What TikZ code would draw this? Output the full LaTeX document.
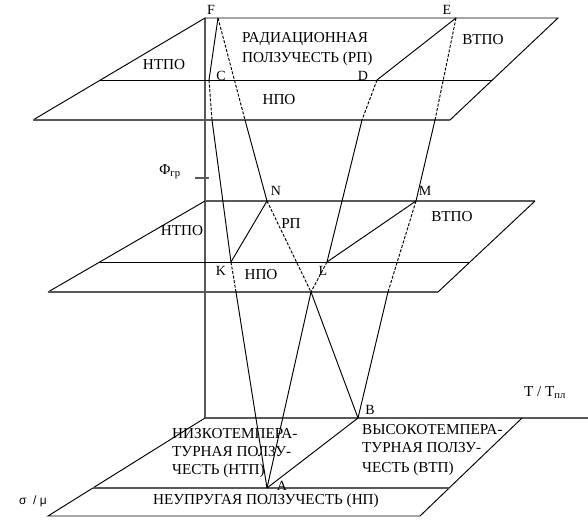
\documentclass[tikz,border=0pt]{standalone}
\usepackage{fontspec}
\setmainfont{Liberation Serif}
\newfontfamily\sansf{Liberation Sans}
\begin{document}
\begin{tikzpicture}[x=1pt,y=-1pt,
  ln/.style={line width=0.95pt,black},
  gl/.style={line width=1.2pt,color=black!65},
  dl/.style={line width=0.95pt,black,dash pattern=on 3pt off 1.6pt},
  lbl/.style={inner sep=0pt,text height=0.66em,text depth=0pt,font=\fontsize{15.2}{18}\selectfont},
  pt/.style={inner sep=0pt,text height=0.66em,text depth=0pt,font=\fontsize{14}{16}\selectfont}]
\useasboundingbox (0,0) rectangle (588,521);
% coordinates of planes
\coordinate (t1) at (205,18); \coordinate (t2) at (558,18);
\coordinate (t3) at (450,120); \coordinate (t4) at (33,120);
\coordinate (tm1) at (100,80); \coordinate (tm2) at (492,80);
\coordinate (m1) at (205,201); \coordinate (m2) at (535,201);
\coordinate (m3) at (438,292); \coordinate (m4) at (48,292);
\coordinate (mm1) at (100,262); \coordinate (mm2) at (469,262);
\coordinate (b1) at (205,418); \coordinate (b2) at (522,418);
\coordinate (b3) at (420,516); \coordinate (b4) at (48,516);
\coordinate (bm1) at (93,488); \coordinate (bm2) at (449,488);
\coordinate (tax) at (588,418);
\coordinate (ph1) at (195,178); \coordinate (ph2) at (209,178);
% points
\coordinate (F) at (218,18); \coordinate (C) at (209,80);
\coordinate (E) at (456,18); \coordinate (D) at (377,80);
\coordinate (N) at (267,201); \coordinate (K) at (231,262);
\coordinate (L) at (327,262); \coordinate (M) at (416,201);
\coordinate (A) at (267,488); \coordinate (B) at (358,418);
\coordinate (fc) at (212,120); \coordinate (ff) at (245,120);
\coordinate (fd) at (362,120); \coordinate (fe) at (435,120);
\coordinate (pk) at (236,292); \coordinate (px) at (311,292);
\coordinate (pm) at (388,292);
% axes
\draw[gl] (t1) -- (b1);
\draw[gl] (b1) -- (tax);
\draw[gl] (ph1) -- (ph2);
% top plane
\draw[ln] (t4) -- (t1) -- (t2) -- (t3);
\draw[gl] (t3) -- (t4);
\draw[ln] (tm1) -- (tm2);
% middle plane
\draw[ln] (m4) -- (m1);
\draw[gl] (m1) -- (m2);
\draw[ln] (m2) -- (m3);
\draw[gl] (m3) -- (m4);
\draw[ln] (mm1) -- (mm2);
% bottom plane
\draw[ln] (b1) -- (b4) -- (b3) -- (b2);
\draw[gl] (bm1) -- (bm2);
% solid connectors
\draw[ln] (F) -- (C);
\draw[ln] (E) -- (D);
\draw[ln] (N) -- (K);
\draw[ln] (M) -- (L);
\draw[ln] (A) -- (B);
\draw[ln] (fc) -- (K);
\draw[ln] (ff) -- (N);
\draw[ln] (fd) -- (L);
\draw[ln] (fe) -- (M);
\draw[ln] (pk) -- (A);
\draw[ln] (px) -- (A);
\draw[ln] (px) -- (B);
\draw[ln] (pm) -- (B);
% dashed connectors
\draw[dl] (C) -- (fc);
\draw[dl] (F) -- (ff);
\draw[dl] (D) -- (fd);
\draw[dl] (E) -- (fe);
\draw[dl] (K) -- (pk);
\draw[dl] (N) -- (px);
\draw[dl] (L) -- (px);
\draw[dl] (M) -- (pm);
% point labels
\node[pt] (lF) at (211,11) {F};
\node[pt] (lE) at (447,11) {E};
\node[pt] (lC) at (221,77) {C};
\node[pt] (lD) at (363,77) {D};
\node[pt] (lN) at (276,192) {N};
\node[pt] (lM) at (425,192) {M};
\node[pt] (lK) at (221,272) {K};
\node[pt] (lL) at (323,272) {L};
\node[pt] (lB) at (370,411) {B};
\node[pt] (lA) at (282,487) {A};
% region labels
\node[lbl] (tntpo) at (164,66) {НТПО};
\node[lbl,anchor=west] (rp1) at (242,39) {РАДИАЦИОННАЯ};
\node[lbl,anchor=west] (rp2) at (242,59) {ПОЛЗУЧЕСТЬ (РП)};
\node[lbl] (tnpo) at (279,101) {НПО};
\node[lbl] (tvtpo) at (483,41) {ВТПО};
\node[lbl] (phi) at (170,171) {Φ\textsubscript{гр}};
\node[lbl] (mrp) at (291,225) {РП};
\node[lbl] (mvtpo) at (452,218) {ВТПО};
\node[lbl] (mntpo) at (182,232) {НТПО};
\node[lbl] (mnpo) at (261,276) {НПО};
\node[lbl] (taxis) at (545,393) {T / T\textsubscript{пл}};
\node[lbl,anchor=west] (ntp1) at (172,435) {НИЗКОТЕМПЕРА-};
\node[lbl,anchor=west] (ntp2) at (172,453) {ТУРНАЯ ПОЛЗУ-};
\node[lbl,anchor=west] (ntp3) at (172,471) {ЧЕСТЬ (НТП)};
\node[lbl,anchor=west] (vtp1) at (362,431) {ВЫСОКОТЕМПЕРА-};
\node[lbl,anchor=west] (vtp2) at (362,449) {ТУРНАЯ ПОЛЗУ-};
\node[lbl,anchor=west] (vtp3) at (362,469) {ЧЕСТЬ (ВТП)};
\node[lbl] (np) at (266,501) {НЕУПРУГАЯ ПОЛЗУЧЕСТЬ (НП)};
\node[inner sep=0pt,font=\sansf\fontsize{12}{14}\selectfont] (sig) at (33,501) {σ~~/~μ};
\end{tikzpicture}
\end{document}
